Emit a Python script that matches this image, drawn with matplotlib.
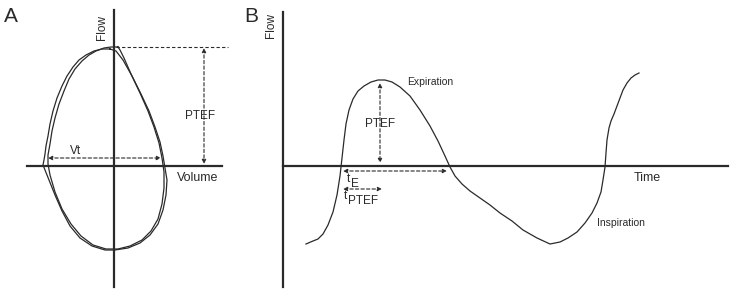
import matplotlib as mpl
mpl.use("Agg")
import matplotlib.pyplot as plt

plt.rcParams["font.family"] = ["Liberation Sans", "DejaVu Sans"]

# panel A: two overlapping flow-volume loops (picture units, y down)
loop1_x = [110, 102, 94, 86, 79, 73, 67, 62, 57, 53, 50, 48, 46, 45, 44, 43, 45, 49,
           55, 62, 70, 80, 92, 105, 115, 128, 140, 150, 158, 163, 166, 167, 165, 163,
           160, 155, 149, 141, 132, 123, 116, 110]
loop1_y = [49, 49, 51, 55, 60, 67, 76, 86, 98, 111, 124, 136, 146, 154, 160, 165, 170,
           180, 195, 211, 226, 238, 246, 250, 250, 248, 243, 235, 224, 210, 195, 180,
           168, 156, 142, 127, 111, 94, 76, 60, 51, 49]
loop2_x = [118, 111, 104, 96, 89, 82, 75, 69, 64, 59, 55, 52, 50, 48, 48, 50, 55, 62,
           71, 81, 93, 106, 118, 130, 142, 151, 158, 162, 164, 164, 162, 159, 154, 148,
           140, 131, 124, 120, 118]
loop2_y = [47, 47, 48, 51, 55, 61, 69, 79, 91, 104, 118, 131, 144, 155, 164, 175, 192,
           209, 224, 236, 245, 249, 249, 246, 240, 231, 219, 204, 188, 172, 158, 143,
           127, 111, 93, 74, 58, 50, 47]

# panel B: flow against time
flow_t = [306, 313, 318, 323, 328, 333, 337, 340, 342, 344, 346, 349, 353, 358, 364,
          371, 378, 385, 392, 400, 410, 420, 430, 438, 445, 450, 455, 462, 470, 480,
          490, 500, 512, 523, 537, 550, 560, 568, 577, 585, 592, 597, 601, 603, 605,
          606, 607, 609, 611, 614, 617, 620, 623, 627, 631, 635, 639]
flow_v = [244, 241, 239, 234, 225, 212, 195, 176, 158, 140, 124, 110, 99, 91, 86, 82,
          80, 80, 82, 87, 96, 110, 126, 141, 156, 167, 176, 184, 191, 198, 205, 213,
          221, 230, 238, 244, 242, 238, 232, 223, 213, 203, 192, 180, 167, 153, 140,
          128, 121, 114, 106, 98, 90, 83, 78, 75, 73]

W, H = 731, 291
fig = plt.figure(figsize=(W / 100, H / 100), dpi=100)
ax = fig.add_axes([0, 0, 1, 1])
ax.set_xlim(0, W)
ax.set_ylim(H, 0)
ax.axis("off")

ink = "#2a2a2a"
axis_lw = 1.6
curve_lw = 0.9

def dashed_arrow(x0, y0, x1, y1):
    ax.annotate("", xy=(x1, y1), xytext=(x0, y0),
                arrowprops=dict(arrowstyle="<|-|>,head_length=0.25,head_width=0.12",
                                linestyle=(0, (3, 2)), lw=0.8, color=ink,
                                shrinkA=0, shrinkB=0))

# ---- panel A
ax.plot([114, 114], [10, 287], color=ink, lw=axis_lw)
ax.plot([27, 222], [166, 166], color=ink, lw=axis_lw)
ax.plot(loop1_x, loop1_y, color=ink, lw=curve_lw)
ax.plot(loop2_x, loop2_y, color=ink, lw=curve_lw)
ax.plot([116, 228], [47, 47], color=ink, lw=0.8, ls=(0, (3, 2)))
dashed_arrow(204, 48, 204, 164)
dashed_arrow(48, 158, 161, 158)

ax.text(4, 22, "A", fontsize=15, color=ink, va="baseline")
ax.text(102, 27, "Flow", fontsize=8.5, rotation=90, ha="center", va="center", color=ink)
ax.text(177, 181, "Volume", fontsize=9, color=ink, va="baseline")
ax.text(200, 119, "PTEF", fontsize=8.5, ha="center", va="baseline", color=ink)
ax.text(76, 154, "Vt", fontsize=8.5, ha="center", va="baseline", color=ink)

# ---- panel B
ax.plot([283, 283], [12, 287], color=ink, lw=axis_lw)
ax.plot([283, 728], [166, 166], color=ink, lw=axis_lw)
ax.plot(flow_t, flow_v, color=ink, lw=curve_lw)
dashed_arrow(380, 83, 380, 163)
dashed_arrow(343, 171, 447, 171)
dashed_arrow(343, 189, 382, 189)

ax.text(244, 22, "B", fontsize=15, color=ink, va="baseline")
ax.text(271, 26, "Flow", fontsize=8.5, rotation=90, ha="center", va="center", color=ink)
ax.text(634, 181, "Time", fontsize=9, color=ink, va="baseline")
ax.text(407, 85, "Expiration", fontsize=7.5, color=ink, va="baseline")
ax.text(380, 127, "PTEF", fontsize=8.5, ha="center", va="baseline", color=ink)
# t_E and t_PTEF drawn as base letter plus lowered subscript
ax.text(347, 182, "t", fontsize=8.5, color=ink, va="baseline")
ax.text(351, 187, "E", fontsize=8.5, color=ink, va="baseline")
ax.text(344, 199, "t", fontsize=8.5, color=ink, va="baseline")
ax.text(348, 204, "PTEF", fontsize=8.5, color=ink, va="baseline")
ax.text(597, 226, "Inspiration", fontsize=7.5, color=ink, va="baseline")

fig.savefig("out.png", dpi=100)
plt.close(fig)
